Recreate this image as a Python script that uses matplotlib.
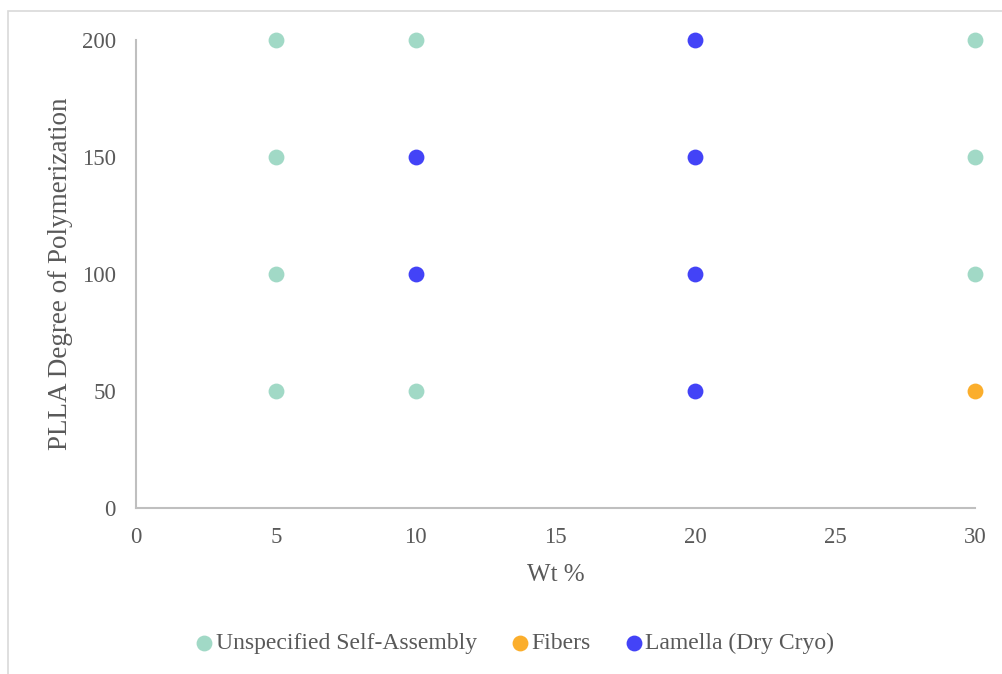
import matplotlib.pyplot as plt
from matplotlib.patches import Rectangle

unspec_x = [5, 5, 5, 5, 10, 10, 30, 30, 30]
unspec_y = [200, 150, 100, 50, 200, 50, 200, 150, 100]
fiber_x = [30]
fiber_y = [50]
lamella_x = [10, 10, 20, 20, 20, 20]
lamella_y = [150, 100, 200, 150, 100, 50]

x_ticks = [0, 5, 10, 15, 20, 25, 30]
y_ticks = [0, 50, 100, 150, 200]

plt.rcParams["font.family"] = ["Liberation Serif", "DejaVu Serif"]
TXT = "#595959"

fig = plt.figure(figsize=(10.03, 6.74), dpi=100)
# outer chart border (only left/top visible in the reference)
fig.patches.append(Rectangle((8 / 1003, -0.1), 1.2, (674 - 11) / 674 + 0.1,
                             transform=fig.transFigure, fill=False,
                             edgecolor="#D9D9D9", linewidth=1.2))

ax = fig.add_axes([136 / 1003, (674 - 508) / 674, 839 / 1003, 468 / 674])
ax.scatter(unspec_x, unspec_y, s=130, color="#A1D9C6", label="Unspecified Self-Assembly",
           zorder=3, clip_on=False, linewidths=0)
ax.scatter(fiber_x, fiber_y, s=130, color="#FBAE2C", label="Fibers",
           zorder=3, clip_on=False, linewidths=0)
ax.scatter(lamella_x, lamella_y, s=130, color="#4343F7", label="Lamella (Dry Cryo)",
           zorder=3, clip_on=False, linewidths=0)

ax.set_xlim(0, 30)
ax.set_ylim(0, 200)
ax.set_xticks(x_ticks)
ax.set_yticks(y_ticks)
for s in ["top", "right"]:
    ax.spines[s].set_visible(False)
for s in ["left", "bottom"]:
    ax.spines[s].set_color("#BFBFBF")
    ax.spines[s].set_linewidth(1.5)
ax.tick_params(length=0, labelsize=16.5, colors=TXT)
ax.tick_params(axis="y", pad=14.4)
ax.tick_params(axis="x", pad=14)

ax.set_xlabel("Wt %", fontsize=18, color=TXT, labelpad=11)
ax.set_ylabel("PLLA Degree of Polymerization", fontsize=19.5, color=TXT, labelpad=6.5)

leg = fig.legend(loc="center", bbox_to_anchor=(515 / 1003, 1 - 643 / 674), ncol=3,
                 frameon=False, fontsize=17, handletextpad=0.14, columnspacing=1.47,
                 handlelength=0.7)
for t in leg.get_texts():
    t.set_color(TXT)

fig.savefig("out.png", dpi=100)
